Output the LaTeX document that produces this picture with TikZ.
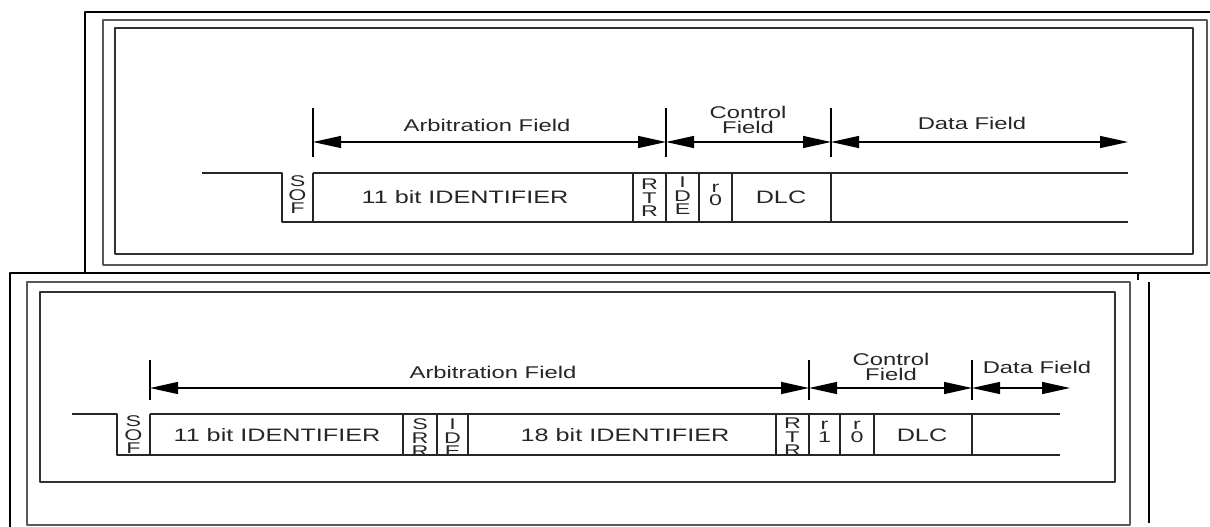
\documentclass[tikz,border=0pt]{standalone}
\usepackage{fontspec}
\setmainfont{Liberation Sans}
\newfontfamily\canfont[FakeStretch=1.4]{Liberation Sans}
\newfontfamily\stkfont[FakeStretch=1.5]{Liberation Sans}
\usetikzlibrary{arrows.meta}
\tikzset{
	lbl/.style={font=\canfont\fontsize{17}{15}\selectfont, text=black!85, align=center, inner sep=0pt},
	idtxt/.style={lbl, font=\canfont\fontsize{18}{18}\selectfont},
	stack/.style={lbl, font=\stkfont\fontsize{15.5}{13.5}\selectfont},
	sig/.style={line width=1.3pt, black!85},
	bnd/.style={line width=1.3pt, black},
	frameA/.style={line width=2.5pt, black},
	frameB/.style={line width=1.6pt, black!65},
	frameC/.style={line width=1.4pt, black!80}
}
\begin{document}
\begin{tikzpicture}[x = 1pt, y = -1pt, line join = round, >={Triangle[length=28pt,width=12pt]}]
	\useasboundingbox (0,0) rectangle (1210,527);
	%Vẽ các khung
	\draw[frameA] (1212,12)--(85,12)--(85,273);
	\draw[frameA] (10,529)--(10,273)--(1212,273);
	\draw[frameA] (1138,273)--(1138,280);
	\draw[line width = 2pt] (1149,282)--(1149,523);
	\draw[frameB] (103,20) rectangle (1207,265);
	\draw[frameC] (115,28) rectangle (1193,254);
	\draw[frameB] (27,282) rectangle (1130,525);
	\draw[frameC] (40,292) rectangle (1115,482);
	%Khung chuẩn: các vạch và mũi tên
	\foreach \x/\n in {313/a1,666/a2,831/a3} {\draw[bnd] (\x,108)--(\x,157); \coordinate (\n) at (\x,142);}
	\coordinate (a4) at (1128,142);
	\draw[bnd,<->] (a1)--(a2);
	\draw[bnd,<->] (a2)--(a3);
	\draw[bnd,<->] (a3)--(a4);
	\node[lbl] (arbA) at (487,125) {Arbitration Field};
	\node[lbl] (ctlA) at (748,120) {Control\\Field};
	\node[lbl] (datA) at (972,123) {Data Field};
	%Khung chuẩn: tín hiệu
	\draw[sig] (202,173)--(282,173)--(282,222)--(1128,222);
	\draw[sig] (313,173)--(1128,173);
	\foreach \x in {313,633,666,699,732,831} \draw[sig] (\x,173)--(\x,222);
	\node[stack] (sofA) at (297.5,195) {S\\O\\F};
	\node[idtxt] (idA) at (465,197.5) {11 bit IDENTIFIER};
	\node[stack] (rtrA) at (649.5,198) {R\\T\\R};
	\node[stack] (ideA) at (682.5,196) {I\\D\\E};
	\node[stack] (r0A) at (715.5,195) {r\\0};
	\node[idtxt] (dlcA) at (781,197) {DLC};
	%Khung mở rộng: các vạch và mũi tên
	\foreach \x/\n in {150/b1,809/b2,972/b3} {\draw[bnd] (\x,360)--(\x,400); \coordinate (\n) at (\x,388);}
	\coordinate (b4) at (1070,388);
	\draw[bnd,<->] (b1)--(b2);
	\draw[bnd,<->] (b2)--(b3);
	\draw[bnd,<->] (b3)--(b4);
	\node[lbl] (arbB) at (493,372) {Arbitration Field};
	\node[lbl] (ctlB) at (891,367) {Control\\Field};
	\node[lbl] (datB) at (1037,367) {Data Field};
	%Khung mở rộng: tín hiệu
	\draw[sig] (72,414)--(117,414)--(117,455)--(1060,455);
	\draw[sig] (150,414)--(1060,414);
	\foreach \x in {150,403,437,468,776,809,840,874,972} \draw[sig] (\x,414)--(\x,455);
	\node[stack] (sofB) at (133.5,435) {S\\O\\F};
	\node[idtxt] (idB) at (277,435) {11 bit IDENTIFIER};
	\node[stack] (srrB) at (420,438) {S\\R\\R};
	\node[stack] (ideB) at (452.5,438) {I\\D\\E};
	\node[idtxt] (idC) at (625,435) {18 bit IDENTIFIER};
	\node[stack] (rtrB) at (792.5,437) {R\\T\\R};
	\node[stack] (r1B) at (824.5,432) {r\\1};
	\node[stack] (r0B) at (857,432) {r\\0};
	\node[idtxt] (dlcB) at (922,435) {DLC};
\end{tikzpicture}
\end{document}
